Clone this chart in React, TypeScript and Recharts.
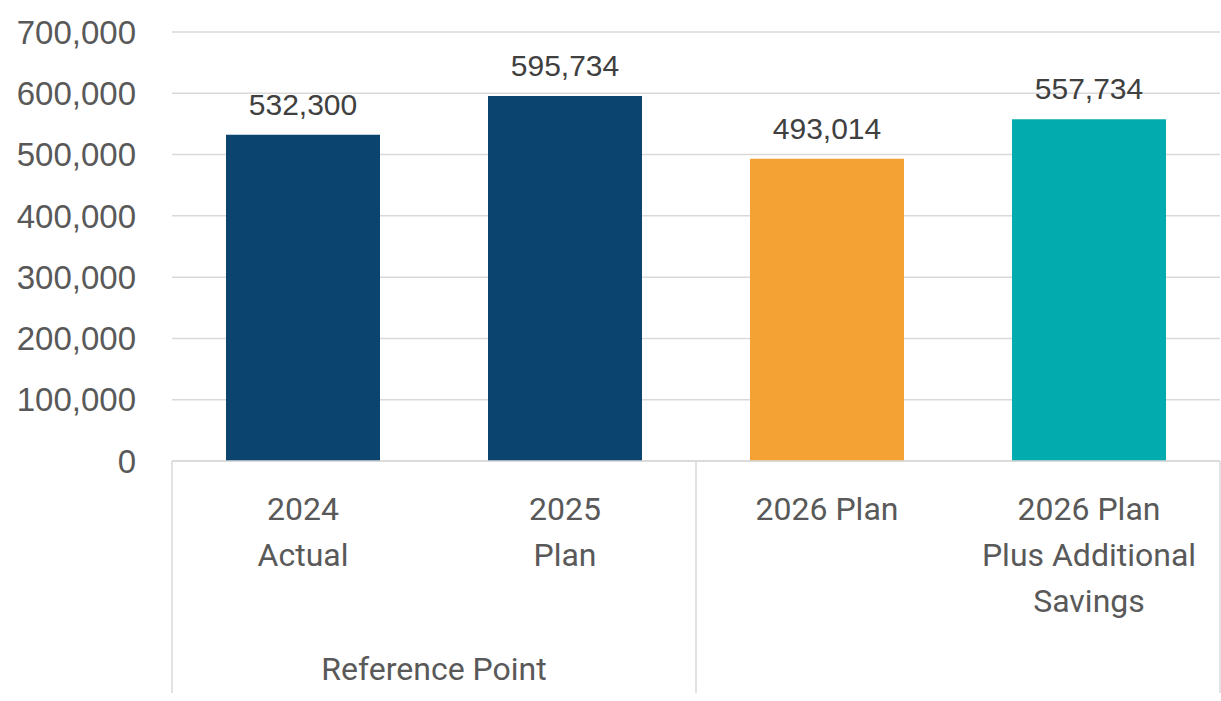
import React from 'react';
import { BarChart, Bar, XAxis, YAxis, CartesianGrid, Cell, LabelList } from 'recharts';

const categories = ['2024 Actual', '2025 Plan', '2026 Plan', '2026 Plan Plus Additional Savings'];
const labelLines = [['2024', 'Actual'], ['2025', 'Plan'], ['2026 Plan'], ['2026 Plan', 'Plus Additional', 'Savings']];
const values = [532300, 595734, 493014, 557734];
const colors = ['#0B446F', '#0B446F', '#F4A233', '#02ACAE'];
const yTicks = [0, 100000, 200000, 300000, 400000, 500000, 600000, 700000];
const groupLabel = 'Reference Point';

const data = categories.map((c, i) => ({ name: c, value: values[i] }));

const W = 1221;
const H = 701;
const LEFT = 172;
const RIGHT = 1;
const BAND = (W - LEFT - RIGHT) / categories.length;

const fmt = (v: number) => v.toLocaleString('en-US');

const CatTick = (props: any) => {
  const { x, y, index } = props;
  const lines = labelLines[index] || [];
  const half = BAND / 2;
  const top = y;
  const lineColor = '#D9D9D9';
  return (
    <g>
      {lines.map((l, k) => (
        <text key={k} x={x} y={top + 59 + k * 46} textAnchor="middle" fill="#595959"
          style={{ fontFamily: 'Roboto', fontSize: 32 }}>{l}</text>
      ))}
      {index === 0 && <line x1={x - half} x2={x - half} y1={top} y2={top + 232} stroke={lineColor} strokeWidth={1.5} />}
      {index === 2 && <line x1={x - half} x2={x - half} y1={top} y2={top + 232} stroke={lineColor} strokeWidth={1.5} />}
      {index === 3 && <line x1={x + half} x2={x + half} y1={top} y2={top + 232} stroke={lineColor} strokeWidth={1.5} />}
      {index === 0 && (
        <text x={x + half} y={top + 219} textAnchor="middle" fill="#595959"
          style={{ fontFamily: 'Roboto', fontSize: 32 }}>{groupLabel}</text>
      )}
    </g>
  );
};

export default function App() {
  return (
    <div style={{ position: 'absolute', left: 0, top: 0, background: '#fff' }}>
      <BarChart width={W} height={H} data={data} margin={{ top: 32, right: RIGHT, left: 0, bottom: 0 }}>
        <CartesianGrid vertical={false} stroke="#D9D9D9" strokeWidth={1.5} />
        <XAxis dataKey="name" height={240} tickLine={false} tickSize={0} tickMargin={0}
          axisLine={{ stroke: '#D9D9D9', strokeWidth: 1.5 }} tick={<CatTick />} interval={0} />
        <YAxis width={LEFT} domain={[0, 700000]} ticks={yTicks} tickFormatter={fmt}
          axisLine={false} tickLine={false} tickSize={0} tickMargin={36}
          tick={{ fill: '#595959', fontSize: 33, fontFamily: 'Liberation Sans' }} />
        <Bar dataKey="value" barSize={154} isAnimationActive={false}>
          {values.map((_, i) => <Cell key={i} fill={colors[i]} />)}
          <LabelList dataKey="value" position="top" offset={20} formatter={(v: any) => fmt(Number(v))}
            fill="#404040" style={{ fontSize: 30, fontFamily: 'Liberation Sans' }} />
        </Bar>
      </BarChart>
    </div>
  );
}
